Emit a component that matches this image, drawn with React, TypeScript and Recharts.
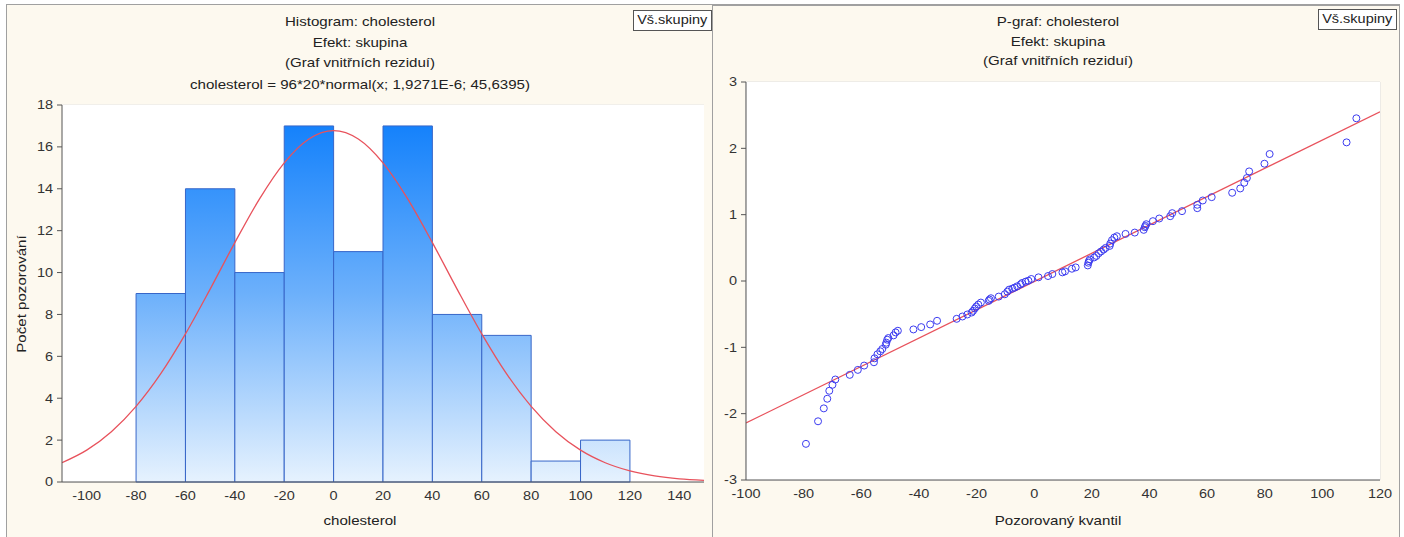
import React from 'react';
import {
  ComposedChart, Line, Scatter, XAxis, YAxis, CartesianGrid, ReferenceArea,
} from 'recharts';

// ---------- Histogram data ----------
const binStart = [-80, -60, -40, -20, 0, 20, 40, 60, 80, 100];
const binEnd = [-60, -40, -20, 0, 20, 40, 60, 80, 100, 120];
const binCount = [9, 14, 10, 17, 11, 17, 8, 7, 1, 2];

const curveX = [-110, -100, -90, -80, -70, -60, -50, -40, -30, -20, -10, 0, 10, 20, 30, 40, 50, 60, 70, 80, 90, 100, 110, 120, 130, 140, 150];
const curveY = [0.92, 1.52, 2.40, 3.61, 5.17, 7.07, 9.21, 11.43, 13.52, 15.24, 16.38, 16.78, 16.38, 15.24, 13.52, 11.43, 9.21, 7.07, 5.17, 3.61, 2.40, 1.52, 0.92, 0.53, 0.29, 0.15, 0.08];

const histXTicks = [-100, -80, -60, -40, -20, 0, 20, 40, 60, 80, 100, 120, 140];
const histYTicks = [0, 2, 4, 6, 8, 10, 12, 14, 16, 18];

// ---------- P-graph data ----------
const qqX = [
  -79.2, -75, -73, -71.8, -71.1, -70, -69, -64, -61.2,
  -59, -55.6, -55.4, -54.4, -53.4, -52.7, -51.5, -51.3, -51, -50.6, -48.8, -48.1, -47.3, -41.9,
  -39.2, -36.1, -33.7, -26.9, -24.9, -23.2, -21.7, -21.2, -20.6, -20.1,
  -19.4, -18.5, -15.8, -15.5, -15, -12.3, -10.2, -9.3, -8.7, -7.6, -6.8, -5.9, -4.7, -4.2, -3, -2, -1,
  1.5, 4.8, 6.3, 9.8, 10.7, 13.1, 14.4, 18.6, 18.8, 19, 19.3,
  20.8, 21.6, 22.4, 23.2, 24.1, 24.8, 26.2, 26.4, 27, 27.8, 28.7, 31.7, 34.9, 38, 38.4, 38.6, 38.9,
  41.2, 43.4, 47.2, 47.9, 51.3, 56.6, 56.6, 58.5,
  61.6, 68.7, 71.5, 72.9, 73.8, 74.6, 79.9,
  81.7, 108.4, 111.8,
];
const qqY = [
  -2.455, -2.115, -1.92, -1.775, -1.655, -1.565, -1.485, -1.415, -1.34,
  -1.275, -1.225, -1.165, -1.105, -1.06, -1.025, -0.96, -0.93, -0.885, -0.86, -0.82, -0.775, -0.75, -0.73,
  -0.695, -0.655, -0.6, -0.57, -0.535, -0.505, -0.475, -0.45, -0.415, -0.385,
  -0.355, -0.325, -0.3, -0.28, -0.26, -0.235, -0.2, -0.16, -0.13, -0.115, -0.1, -0.08, -0.05, -0.03, -0.01, 0.005, 0.03,
  0.055, 0.075, 0.105, 0.13, 0.145, 0.185, 0.205, 0.235, 0.275, 0.3, 0.325,
  0.355, 0.378, 0.418, 0.445, 0.474, 0.499, 0.529, 0.564, 0.615, 0.655, 0.675, 0.71, 0.73, 0.771, 0.811, 0.83, 0.856,
  0.902, 0.942, 0.977, 1.023, 1.053, 1.098, 1.149, 1.214,
  1.264, 1.33, 1.395, 1.481, 1.552, 1.652, 1.768,
  1.914, 2.09, 2.453,
];
const fitX = [-100, 120];
const fitY = [-2.14, 2.55];

const qqXTicks = [-100, -80, -60, -40, -20, 0, 20, 40, 60, 80, 100, 120];
const qqYTicks = [-3, -2, -1, 0, 1, 2, 3];
const qqXMinor = Array.from({ length: 56 }, (_, i) => -100 + i * 4);
const qqYMinor = Array.from({ length: 25 }, (_, i) => -3 + i * 0.25);

const curveData = curveX.map((x, i) => ({ x, y: curveY[i] }));
const qqData = qqX.map((x, i) => ({ x, y: qqY[i] }));
const fitData = fitX.map((x, i) => ({ x, y: fitY[i] }));

const FONT = '"Liberation Sans", Arial, sans-serif';
const AX = '#555';
const SX = 1.16;

const XTick = (p: any) => (
  <text
    x={p.x} y={p.y} dy="0.71em" textAnchor="middle" fontFamily={FONT} fontSize={12.5} fill="#333"
    transform={`translate(${p.x} ${p.y}) scale(${SX} 1) translate(${-p.x} ${-p.y})`}
  >{p.payload.value}</text>
);
const YTick = (p: any) => (
  <text
    x={p.x} y={p.y} dy="0.36em" textAnchor="end" fontFamily={FONT} fontSize={12.5} fill="#333"
    transform={`translate(${p.x} ${p.y}) scale(${SX} 1) translate(${-p.x} ${-p.y})`}
  >{p.payload.value}</text>
);

const Txt = ({ cx, cy, children, rotate = false }: any) => (
  <div style={{
    position: 'absolute', left: cx - 300, top: cy - 10, width: 600, height: 20, lineHeight: '20px',
    textAlign: 'center', fontFamily: FONT, fontSize: 13, color: '#222', whiteSpace: 'nowrap',
    transform: rotate ? `rotate(-90deg) scaleX(${SX})` : `scaleX(${SX})`,
  }}>{children}</div>
);

const Box = ({ left, top }: any) => (
  <div style={{
    position: 'absolute', left, top, width: 79, height: 21, boxSizing: 'border-box',
    border: '1px solid #555', background: '#fff', fontFamily: FONT, fontSize: 12.5, color: '#222',
    lineHeight: '19px', textAlign: 'center', whiteSpace: 'nowrap',
  }}><span style={{ display: 'inline-block', transform: `scaleX(${SX})` }}>Vš.skupiny</span></div>
);

const Circle = (p: any) => (
  <circle cx={p.cx} cy={p.cy} r={3.5} fill="none" stroke="#3c3cf0" strokeWidth={1} />
);

export default function App() {
  return (
    <div style={{ position: 'absolute', left: 0, top: 0, width: 1404, height: 537, background: '#fff', overflow: 'hidden' }}>
      {/* panels */}
      <div style={{ position: 'absolute', left: 6, top: 4, width: 707, height: 540, boxSizing: 'border-box', background: '#fdf9ef', borderTop: '1px solid #a0a0a0', borderLeft: '1px solid #a0a0a0', borderRight: '1px solid #a0a0a0' }} />
      <div style={{ position: 'absolute', left: 713, top: 4, width: 687, height: 540, boxSizing: 'border-box', background: '#fdf9ef', borderTop: '2px solid #a0a0a0', borderRight: '1px solid #a0a0a0' }} />

      {/* left chart */}
      <div style={{ position: 'absolute', left: 0, top: 0 }}>
        <ComposedChart width={712} height={537} data={curveData} margin={{ top: 105, right: 8, bottom: 25, left: 0 }}>
          <defs>
            <linearGradient id="barGrad" gradientUnits="userSpaceOnUse" x1="0" y1="105" x2="0" y2="482">
              <stop offset="0%" stopColor="#0a7cfb" />
              <stop offset="50%" stopColor="#6cb0fb" />
              <stop offset="100%" stopColor="#e6f2fe" />
            </linearGradient>
          </defs>
          <rect x={62} y={105} width={642} height={377} fill="#fff" />
          <CartesianGrid vertical={false} stroke="#e4e4e4" />
          <XAxis xAxisId="bm" orientation="bottom" mirror height={0} type="number" domain={[-110, 150]} allowDataOverflow ticks={histXTicks} interval={0} tick={false} tickSize={4} axisLine={false} stroke={AX} />
          <XAxis xAxisId="tm" orientation="top" mirror height={0} type="number" domain={[-110, 150]} allowDataOverflow ticks={histXTicks} interval={0} tick={false} tickSize={4} stroke={AX} />
          <XAxis dataKey="x" type="number" domain={[-110, 150]} allowDataOverflow ticks={histXTicks} interval={0} height={30} tickLine={false} tickSize={6} tickMargin={3} tick={<XTick />} stroke={AX} />
          <YAxis yAxisId="rm" orientation="right" mirror width={0} type="number" domain={[0, 18]} allowDataOverflow ticks={histYTicks} interval={0} tick={false} tickSize={4} stroke={AX} />
          <YAxis type="number" domain={[0, 18]} allowDataOverflow ticks={histYTicks} interval={0} width={62} tickSize={5} tickMargin={4} tick={<YTick />} stroke={AX} />
          {binStart.map((s, i) => (
            <ReferenceArea key={i} x1={s} x2={binEnd[i]} y1={0} y2={binCount[i]} fill="url(#barGrad)" fillOpacity={1} stroke="#3766c8" strokeWidth={1} strokeOpacity={1} />
          ))}
          <Line dataKey="y" type="monotone" stroke="#e8525c" strokeWidth={1.3} dot={false} isAnimationActive={false} />
        </ComposedChart>
      </div>

      {/* right chart */}
      <div style={{ position: 'absolute', left: 713, top: 0 }}>
        <ComposedChart width={691} height={537} margin={{ top: 82, right: 24, bottom: 27, left: 0 }}>
          <rect x={33} y={82} width={634} height={398} fill="#fff" />
          <CartesianGrid stroke="#dedede" />
          <XAxis xAxisId="bmn" orientation="bottom" mirror height={0} type="number" domain={[-100, 120]} allowDataOverflow ticks={qqXMinor} interval={0} tick={false} tickSize={3} axisLine={false} stroke={AX} />
          <XAxis xAxisId="bmj" orientation="bottom" mirror height={0} type="number" domain={[-100, 120]} allowDataOverflow ticks={qqXTicks} interval={0} tick={false} tickSize={5} axisLine={false} stroke={AX} />
          <XAxis xAxisId="tmn" orientation="top" mirror height={0} type="number" domain={[-100, 120]} allowDataOverflow ticks={qqXMinor} interval={0} tick={false} tickSize={3} stroke={AX} />
          <XAxis xAxisId="tmj" orientation="top" mirror height={0} type="number" domain={[-100, 120]} allowDataOverflow ticks={qqXTicks} interval={0} tick={false} tickSize={5} axisLine={false} stroke={AX} />
          <XAxis dataKey="x" type="number" domain={[-100, 120]} allowDataOverflow ticks={qqXTicks} interval={0} height={30} tickLine={false} tickSize={6} tickMargin={3} tick={<XTick />} stroke={AX} />
          <YAxis yAxisId="lmn" orientation="left" mirror width={0} type="number" domain={[-3, 3]} allowDataOverflow ticks={qqYMinor} interval={0} tick={false} tickSize={3} axisLine={false} stroke={AX} />
          <YAxis yAxisId="rmn" orientation="right" mirror width={0} type="number" domain={[-3, 3]} allowDataOverflow ticks={qqYMinor} interval={0} tick={false} tickSize={3} stroke={AX} />
          <YAxis yAxisId="rmj" orientation="right" mirror width={0} type="number" domain={[-3, 3]} allowDataOverflow ticks={qqYTicks} interval={0} tick={false} tickSize={5} axisLine={false} stroke={AX} />
          <YAxis dataKey="y" type="number" domain={[-3, 3]} allowDataOverflow ticks={qqYTicks} interval={0} width={33} tickSize={5} tickMargin={4} tick={<YTick />} stroke={AX} />
          <Line data={fitData} dataKey="y" type="linear" stroke="#e8525c" strokeWidth={1.3} dot={false} isAnimationActive={false} />
          <Scatter data={qqData} dataKey="y" shape={<Circle />} isAnimationActive={false} />
        </ComposedChart>
      </div>

      {/* titles & labels */}
      <Txt cx={360} cy={22}>Histogram: cholesterol</Txt>
      <Txt cx={360} cy={43}>Efekt: skupina</Txt>
      <Txt cx={360} cy={63}>(Graf vnitřních reziduí)</Txt>
      <Txt cx={360} cy={85}>cholesterol = 96*20*normal(x; 1,9271E-6; 45,6395)</Txt>
      <Txt cx={22} cy={294} rotate>Počet pozorování</Txt>
      <Txt cx={360} cy={521}>cholesterol</Txt>

      <Txt cx={1058} cy={22}>P-graf: cholesterol</Txt>
      <Txt cx={1058} cy={42}>Efekt: skupina</Txt>
      <Txt cx={1058} cy={61}>(Graf vnitřních reziduí)</Txt>
      <Txt cx={1058} cy={521}>Pozorovaný kvantil</Txt>

      <Box left={633} top={10} />
      <Box left={1318} top={9} />
    </div>
  );
}
